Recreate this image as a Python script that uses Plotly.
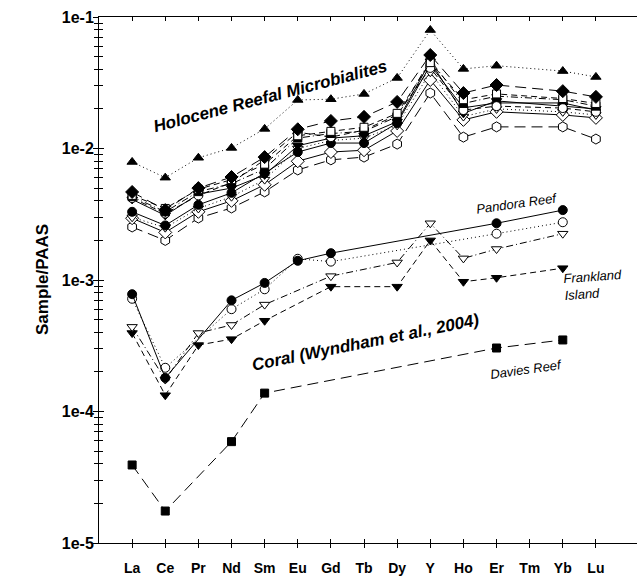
import plotly.graph_objects as go

elements = ["La", "Ce", "Pr", "Nd", "Sm", "Eu", "Gd", "Tb", "Dy", "Y", "Ho", "Er", "Tm", "Yb", "Lu"]
y_tick_vals = [1e-5, 1e-4, 1e-3, 1e-2, 1e-1]
y_tick_text = ["1e-5", "1e-4", "1e-3", "1e-2", "1e-1"]

# Holocene reefal microbialites (no Tm data)
mb_tri_filled = [7.9e-3, 6.0e-3, 8.5e-3, 1.01e-2, 1.41e-2, 2.34e-2, 2.37e-2, 2.6e-2, 3.44e-2, 7.96e-2, 4.03e-2, 4.26e-2, None, 3.88e-2, 3.5e-2]
mb_diamond_filled = [4.67e-3, 3.4e-3, 5.0e-3, 6.07e-3, 8.6e-3, 1.4e-2, 1.62e-2, 1.74e-2, 2.26e-2, 5.14e-2, 2.64e-2, 3.04e-2, None, 2.73e-2, 2.47e-2]
mb_square_open = [4.4e-3, 3.5e-3, 4.9e-3, 5.8e-3, 7.6e-3, 1.25e-2, 1.35e-2, 1.45e-2, 1.85e-2, 4.5e-2, 2.35e-2, 2.6e-2, None, 2.4e-2, 2.2e-2]
mb_square_filled = [4.3e-3, 3.3e-3, 4.7e-3, 5.4e-3, 7.0e-3, 1.2e-2, 1.3e-2, 1.35e-2, 1.75e-2, 4.7e-2, 2.2e-2, 2.5e-2, None, 2.35e-2, 2.1e-2]
mb_circle_open = [4.2e-3, 3.2e-3, 4.4e-3, 5.5e-3, 8.2e-3, 1.33e-2, 1.22e-2, 1.38e-2, 1.8e-2, 4.1e-2, 1.96e-2, 2.1e-2, None, 2.03e-2, 1.9e-2]
mb_tridown_filled = [4.1e-3, 3.1e-3, 4.5e-3, 5.0e-3, 6.3e-3, 1.05e-2, 1.2e-2, 1.25e-2, 1.6e-2, 4.6e-2, 1.85e-2, 2.3e-2, None, 2.1e-2, 2.0e-2]
mb_circle_filled = [3.3e-3, 2.6e-3, 3.73e-3, 4.6e-3, 6.5e-3, 9.4e-3, 1.1e-2, 1.1e-2, 1.56e-2, 4.3e-2, 2.04e-2, 2.22e-2, None, 2.22e-2, 1.96e-2]
mb_tridown_open = [3.0e-3, 2.5e-3, 3.5e-3, 4.3e-3, 5.8e-3, 1.0e-2, 1.15e-2, 1.2e-2, 1.5e-2, 3.8e-2, 1.75e-2, 2.0e-2, None, 1.9e-2, 1.8e-2]
mb_diamond_open = [2.95e-3, 2.3e-3, 3.3e-3, 4.0e-3, 5.3e-3, 8.0e-3, 9.4e-3, 9.7e-3, 1.36e-2, 3.32e-2, 1.65e-2, 1.9e-2, None, 1.8e-2, 1.71e-2]
mb_hexagon_open = [2.53e-3, 2.0e-3, 2.96e-3, 3.53e-3, 4.68e-3, 6.87e-3, 8.2e-3, 8.6e-3, 1.08e-2, 2.64e-2, 1.22e-2, 1.46e-2, None, 1.46e-2, 1.18e-2]

# Coral (Wyndham et al., 2004)
coral_pandora = [7.8e-4, 1.8e-4, None, 7.0e-4, 9.5e-4, 1.4e-3, 1.6e-3, None, None, None, None, 2.7e-3, None, 3.4e-3, None]
coral_open_circle = [7.2e-4, 2.15e-4, None, 6.0e-4, 8.5e-4, 1.45e-3, 1.38e-3, None, None, None, None, 2.25e-3, None, 2.75e-3, None]
coral_open_tridown = [4.4e-4, 1.75e-4, 3.95e-4, 4.55e-4, 6.5e-4, None, 1.07e-3, None, 1.36e-3, 2.7e-3, 1.46e-3, 1.72e-3, None, 2.25e-3, None]
coral_frankland = [3.95e-4, 1.33e-4, 3.2e-4, 3.55e-4, 4.9e-4, None, 8.9e-4, None, 8.9e-4, 2.0e-3, 9.7e-4, 1.04e-3, None, 1.23e-3, None]
coral_davies = [3.92e-5, 1.75e-5, None, 5.9e-5, 1.38e-4, None, None, None, None, None, None, 3.04e-4, None, 3.5e-4, None]

DOT = "1px,3px"
LONG = "11px,6px"
DASH = "6px,4px"
DASHDOT = "7px,3px,1px,3px"
SOLID = "solid"

series = [
    (mb_hexagon_open, "hexagon", False, LONG, 10),
    (mb_diamond_open, "diamond", False, SOLID, 10),
    (mb_tridown_open, "triangle-down", False, DOT, 9),
    (mb_circle_filled, "circle", True, SOLID, 9),
    (mb_tridown_filled, "triangle-down", True, SOLID, 9),
    (mb_circle_open, "circle", False, DASH, 9),
    (mb_square_filled, "square", True, DASHDOT, 8),
    (mb_square_open, "square", False, DASH, 8),
    (mb_diamond_filled, "diamond", True, LONG, 10),
    (mb_tri_filled, "triangle-up", True, DOT, 9),
    (coral_davies, "square", True, LONG, 8),
    (coral_frankland, "triangle-down", True, DASH, 9),
    (coral_open_tridown, "triangle-down", False, DASHDOT, 9),
    (coral_open_circle, "circle", False, DOT, 9),
    (coral_pandora, "circle", True, SOLID, 9),
]

xs = list(range(len(elements)))
fig = go.Figure()
for vals, sym, filled, dash, size in series:
    fig.add_trace(go.Scatter(
        x=xs, y=vals, mode="lines+markers", connectgaps=True,
        line=dict(color="black", width=1, dash=dash),
        marker=dict(symbol=sym, size=size, color="black" if filled else "white",
                    line=dict(color="black", width=1)),
        showlegend=False, hoverinfo="skip",
    ))

FONT = "Liberation Sans, Arial, sans-serif"
minor_vals = [k * 10 ** e for e in range(-5, -1) for k in range(2, 10)]

fig.update_layout(
    width=640, height=577,
    margin=dict(l=99, r=3, t=17, b=34, autoexpand=False),
    paper_bgcolor="white", plot_bgcolor="white",
    font=dict(family=FONT, color="black"),
    xaxis=dict(range=[-1, 15.24], tickmode="array", tickvals=xs, ticktext=elements,
               ticks="inside", ticklen=4, tickcolor="black", mirror="allticks",
               showline=True, linecolor="black", linewidth=1, showgrid=False, zeroline=False,
               automargin=False,
               tickfont=dict(family=FONT, size=14, weight="bold"), ticklabelstandoff=12),
    xaxis2=dict(range=[-1, 15.24], overlaying="x", anchor="y", side="bottom", tickmode="array",
                tickvals=xs, ticks="outside", ticklen=4, tickcolor="black", automargin=False,
                showticklabels=False, showline=False, showgrid=False, zeroline=False),
    yaxis=dict(type="log", range=[-5, -1], tickmode="array", tickvals=y_tick_vals, ticktext=y_tick_text,
               ticks="outside", ticklen=5, tickcolor="black", showline=True, linecolor="black",
               linewidth=1, showgrid=False, zeroline=False, automargin=False,
               tickfont=dict(family=FONT, size=16, weight="bold"), ticklabelstandoff=-4,
               minor=dict(tickmode="array", tickvals=minor_vals, ticks="outside", ticklen=4,
                          tickcolor="black", showgrid=False)),
    yaxis2=dict(type="log", range=[-5, -1], overlaying="y", anchor="x", side="left", tickmode="array",
                tickvals=y_tick_vals, ticks="inside", ticklen=5, tickcolor="black", automargin=False,
                showticklabels=False, showline=False, showgrid=False, zeroline=False,
                minor=dict(tickmode="array", tickvals=minor_vals, ticks="inside", ticklen=4,
                           tickcolor="black", showgrid=False)),
)
# placeholder trace so the overlay tick axes are drawn
fig.add_trace(go.Scatter(x=[None], y=[None], xaxis="x2", yaxis="y2", showlegend=False, hoverinfo="skip"))

annos = [
    ("<b><i>Holocene Reefal Microbialites</i></b>", 4.165, -1.608, -14.7, 17),
    ("<b><i>Coral (Wyndham et al., 2004)</i></b>", 7.03, -3.479, -11.4, 17),
    ("<i>Pandora Reef</i>", 11.62, -2.422, -8, 13),
    ("<i>Davies Reef</i>", 11.89, -3.684, -8, 13),
    ("<i>Frankland<br>Island</i>", 13.94, -3.038, -4, 13),
]
for text, x, y, ang, size in annos:
    fig.add_annotation(text=text, x=x, y=y, xref="x", yref="y", showarrow=False,
                       textangle=ang, xanchor="center", yanchor="middle", align="left",
                       font=dict(family=FONT, size=size, color="black"))

fig.add_annotation(text="<b>Sample/PAAS</b>", xref="paper", yref="paper", x=0, y=0.5,
                   xshift=-57, xanchor="center", yanchor="middle", textangle=-90,
                   showarrow=False, font=dict(family=FONT, size=17, color="black"))

fig.write_html("out.html", config={"displayModeBar": False},
               post_script="document.body.style.margin='0';document.body.style.overflow='hidden';"
                           "document.documentElement.style.overflow='hidden';")
